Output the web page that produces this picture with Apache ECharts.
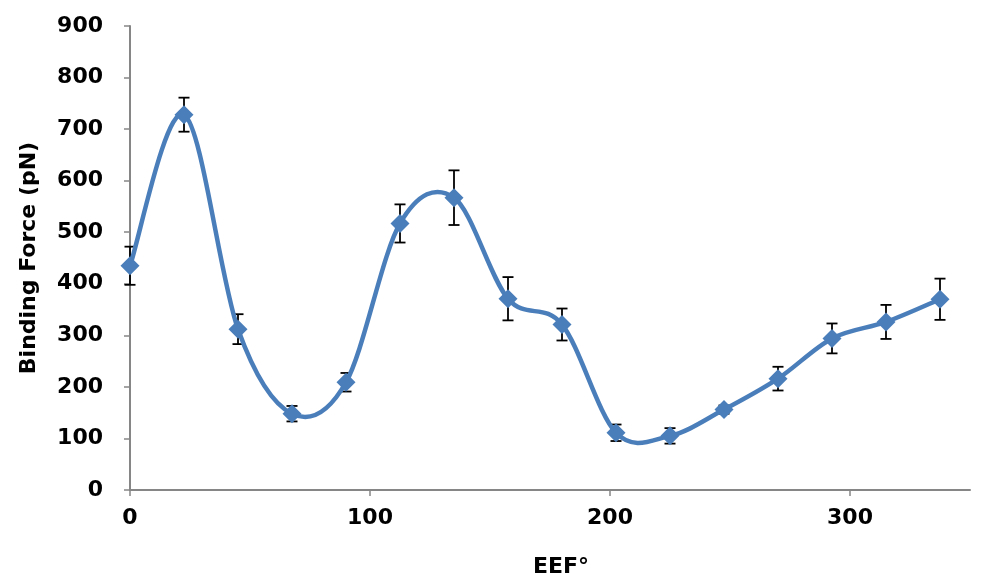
<!DOCTYPE html>
<html>
<head>
<meta charset="utf-8">
<script src="https://cdn.jsdelivr.net/npm/echarts@6/dist/echarts.min.js"></script>
<style>
html,body{margin:0;padding:0;background:#fff;}
#chart{width:985px;height:583px;}
</style>
</head>
<body>
<div id="chart"></div>
<script>
// EEF angle (degrees)
const eef = [0, 22.5, 45, 67.5, 90, 112.5, 135, 157.5, 180, 202.5, 225, 247.5, 270, 292.5, 315, 337.5];
// Binding force (pN)
const force = [435, 728, 312, 148, 209, 517, 567, 371, 321, 111, 105, 156, 216, 294, 326, 370];
// Error (+/-, pN)
const errs = [37, 33, 29, 15, 18, 37, 53, 42, 31, 16, 15, 8, 23, 29, 33, 40];
const xTicks = [0, 100, 200, 300];

const fontFam = '"DejaVu Sans", sans-serif';
const blue = '#4A7EBB';
const chart = echarts.init(document.getElementById('chart'), null, {renderer: 'canvas'});

const lineData = eef.map((x, i) => [x, force[i]]);
const errData = eef.map((x, i) => [x, force[i], errs[i]]);

// Smoothed curve segment (Catmull-Rom style, like a spreadsheet's smoothed line), drawn in pixel space
function renderCurve(params, api) {
  const i = params.dataIndex;
  const n = eef.length;
  if (i >= n - 1) return null;
  const P = j => api.coord([eef[Math.max(0, Math.min(n - 1, j))], force[Math.max(0, Math.min(n - 1, j))]]);
  const p0 = P(i - 1), p1 = P(i), p2 = P(i + 1), p3 = P(i + 2);
  const t = 1 / 6;
  return {
    type: 'bezierCurve',
    shape: {
      x1: p1[0], y1: p1[1],
      cpx1: p1[0] + (p2[0] - p0[0]) * t, cpy1: p1[1] + (p2[1] - p0[1]) * t,
      cpx2: p2[0] - (p3[0] - p1[0]) * t, cpy2: p2[1] - (p3[1] - p1[1]) * t,
      x2: p2[0], y2: p2[1]
    },
    style: {stroke: blue, lineWidth: 4.5, fill: null, lineCap: 'round'}
  };
}

chart.setOption({
  animation: false,
  backgroundColor: '#ffffff',
  grid: {left: 130, right: 15, top: 26, bottom: 91, containLabel: false},
  xAxis: {
    type: 'value', min: 0, max: 350, interval: 50,
    name: 'EEF°', nameLocation: 'middle', nameGap: 66,
    nameTextStyle: {fontFamily: fontFam, fontWeight: 'bold', fontSize: 22, color: '#000', padding: [0, 0, 0, 22]},
    axisLine: {show: true, lineStyle: {color: '#868686', width: 2}},
    axisTick: {show: true, length: 6, inside: false, customValues: xTicks, lineStyle: {color: '#868686', width: 1.5}},
    axisLabel: {customValues: xTicks, margin: 17, fontFamily: fontFam, fontWeight: 'bold', fontSize: 22, color: '#000'},
    splitLine: {show: false}
  },
  yAxis: {
    type: 'value', min: 0, max: 900, interval: 100,
    name: 'Binding Force (pN)', nameLocation: 'middle', nameGap: 90,
    nameTextStyle: {fontFamily: fontFam, fontWeight: 'bold', fontSize: 22, color: '#000'},
    axisLine: {show: true, lineStyle: {color: '#868686', width: 2}},
    axisTick: {show: true, length: 6, inside: false, lineStyle: {color: '#868686', width: 1.5}},
    axisLabel: {margin: 27, fontFamily: fontFam, fontWeight: 'bold', fontSize: 22, color: '#000'},
    splitLine: {show: false}
  },
  series: [
    {
      type: 'custom',
      z: 1,
      silent: true,
      encode: {x: 0, y: 1},
      data: errData,
      renderItem: function (params, api) {
        const x = api.value(0), y = api.value(1), e = api.value(2);
        const top = api.coord([x, y + e]);
        const bot = api.coord([x, y - e]);
        const hw = 5.5;
        const st = {stroke: '#000', lineWidth: 1.8};
        return {
          type: 'group',
          children: [
            {type: 'line', shape: {x1: top[0], y1: top[1], x2: bot[0], y2: bot[1]}, style: st},
            {type: 'line', shape: {x1: top[0] - hw, y1: top[1], x2: top[0] + hw, y2: top[1]}, style: st},
            {type: 'line', shape: {x1: bot[0] - hw, y1: bot[1], x2: bot[0] + hw, y2: bot[1]}, style: st}
          ]
        };
      }
    },
    {
      type: 'custom',
      z: 2,
      silent: true,
      encode: {x: 0, y: 1},
      data: lineData,
      renderItem: renderCurve
    },
    {
      type: 'scatter',
      z: 3,
      data: lineData,
      symbol: 'diamond',
      symbolSize: 19,
      itemStyle: {color: blue, opacity: 1},
      silent: true
    }
  ]
});
</script>
</body>
</html>
